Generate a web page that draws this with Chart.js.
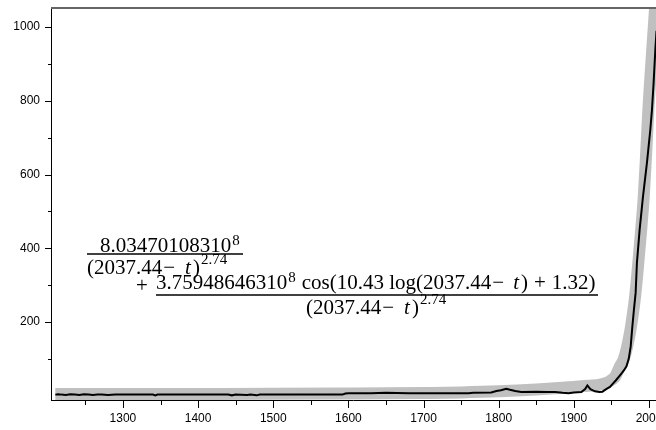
<!DOCTYPE html>
<html><head><meta charset="utf-8">
<script src="https://cdn.jsdelivr.net/npm/chart.js@4/dist/chart.umd.min.js"></script>
<style>html,body{margin:0;padding:0;background:#fff}#wrap{position:relative;width:656px;height:430px}</style>
</head><body><div id="wrap"><canvas id="c" width="656" height="430"></canvas></div>
<script>
// observed series (black)
const obsYears = [1210,1214,1218,1224,1230,1236,1242,1248,1254,1260,1266,1272,1280,1290,1300,1320,1340,1343,1346,1400,1440,1445,1450,1465,1470,1478,1482,1500,1560,1592,1596,1600,1630,1650,1680,1700,1720,1760,1766,1790,1797,1803,1810,1815,1822,1830,1850,1865,1875,1885,1893,1900,1910,1915,1918,1922,1928,1934,1938,1943,1948,1952,1956,1960,1964,1967,1970,1973,1975.6,1977.8,1980,1982.2,1983.9,1987.5,1991.9,1997.2,2001.7,2003.9,2006.1,2008.4,2010];
const obsValues = [3,4,3,2,4,3,2,4,3,2,3,3,2,3,3,3,3,1,3,3,3,1,3,2,3,1,3,3,3,3,6,7,7,8,7,7,7,7,8,9,13,15,19,16,13,10,11,10,10,8,7,9,10,18,28,18,12,10,11,18,24,33,42,52,62,70,80,100,133,187,235,279,360,450,539,631,721,775,848,938,990];
// fitted curve (grey band)
const fitYears = [1210,1300,1400,1500,1600,1650,1700,1750,1800,1850,1880,1900,1920,1935,1945,1950,1955,1961,1966,1970,1975,1978,1981,1984,1987,1990,1993,1996,1999.5,2003,2007,2012];
const fitValues = [4.6,4.7,4.9,5.2,6,6.5,7.5,9,12,17,21,24,27,30,36,43,52,78,97,125,175,215,260,320,390,460,540,650,790,900,1020,1180];
// ticks
const xMajorTicks = [1300,1400,1500,1600,1700,1800,1900,2000];
const xMinorTicks = [1250,1350,1450,1550,1650,1750,1850,1950];
const yMajorTicks = [200,400,600,800,1000];
const yMinorTicks = [100,300,500,700,900];
// formula text
const num1 = "8.03470108310", supEight = "8";
const denA = "(2037.44", minus = "\u2212", tVar = "t", close = ")", denSup = "2.74";
const num2a = "3.75948646310", num2b = "cos(10.43 log(2037.44", plus = "+", num2c = "1.32)";

const frame = {
  id: 'frame',
  afterDatasetsDraw(chart) {
    const ctx = chart.ctx, a = chart.chartArea, xs = chart.scales.x, ys = chart.scales.y;
    ctx.save();
    ctx.strokeStyle = '#000'; ctx.lineWidth = 1;
    ctx.beginPath();
    ctx.moveTo(a.left - 0.5, a.top); ctx.lineTo(a.left - 0.5, a.bottom + 1);
    ctx.moveTo(a.left - 1, a.bottom + 0.5); ctx.lineTo(a.right, a.bottom + 0.5);
    yMajorTicks.forEach(v => { const y = Math.round(ys.getPixelForValue(v)) + 0.5; ctx.moveTo(a.left - 7, y); ctx.lineTo(a.left, y); });
    yMinorTicks.forEach(v => { const y = Math.round(ys.getPixelForValue(v)) + 0.5; ctx.moveTo(a.left - 4, y); ctx.lineTo(a.left, y); });
    xMajorTicks.forEach(v => { const x = Math.round(xs.getPixelForValue(v)) + 0.5; ctx.moveTo(x, a.bottom); ctx.lineTo(x, a.bottom + 8); });
    xMinorTicks.forEach(v => { const x = Math.round(xs.getPixelForValue(v)) + 0.5; ctx.moveTo(x, a.bottom); ctx.lineTo(x, a.bottom + 5); });
    ctx.stroke();
    ctx.strokeStyle = '#666'; ctx.lineWidth = 2;
    ctx.beginPath(); ctx.moveTo(a.left - 1, a.top); ctx.lineTo(a.right, a.top); ctx.stroke();
    ctx.restore();
  }
};

function run(ctx, x, y, parts) {
  parts.forEach(p => {
    x += (p.pre || 0);
    ctx.font = (p.italic ? 'italic ' : '') + p.size + 'px "Liberation Serif"';
    ctx.fillText(p.t, x, y + (p.dy || 0));
    x += ctx.measureText(p.t).width;
  });
  return x;
}

const formula = {
  id: 'formula',
  afterDraw(chart) {
    const ctx = chart.ctx;
    ctx.save();
    ctx.fillStyle = '#000'; ctx.strokeStyle = '#000'; ctx.lineWidth = 1.3;
    ctx.textBaseline = 'alphabetic'; ctx.textAlign = 'left';
    const M = 21, S = 15;
    const denParts = [{t: denA, size: M}, {t: minus, size: M, pre: 1}, {t: tVar, size: M, italic: true, pre: 10}, {t: close, size: M, pre: 2}, {t: denSup, size: S, dy: -10, pre: 1}];
    run(ctx, 100, 252, [{t: num1, size: M}, {t: supEight, size: S, dy: -7, pre: 1}]);
    ctx.beginPath(); ctx.moveTo(87, 254); ctx.lineTo(243, 254); ctx.stroke();
    run(ctx, 87, 273.5, denParts);
    run(ctx, 136, 292, [{t: plus, size: M}]);
    run(ctx, 156, 288.5, [
      {t: num2a, size: M}, {t: supEight, size: S, dy: -7, pre: 1},
      {t: num2b, size: M, pre: 6}, {t: minus, size: M, pre: 1}, {t: tVar, size: M, italic: true, pre: 9},
      {t: close, size: M, pre: 2}, {t: plus, size: M, pre: 6}, {t: num2c, size: M, pre: 6}
    ]);
    ctx.beginPath(); ctx.moveTo(156, 295); ctx.lineTo(598, 295); ctx.stroke();
    run(ctx, 306, 313.5, denParts);
    ctx.restore();
  }
};

new Chart(document.getElementById('c'), {
  type: 'line',
  data: {
    datasets: [
      { data: obsYears.map((x, i) => ({x, y: obsValues[i]})), borderColor: '#000', borderWidth: 2, pointRadius: 0, tension: 0, clip: 0 },
      { data: fitYears.map((x, i) => ({x, y: fitValues[i]})), borderColor: '#c0c0c0', borderWidth: 12, pointRadius: 0, cubicInterpolationMode: 'monotone', borderCapStyle: 'butt', clip: 0 }
    ]
  },
  options: {
    responsive: false, animation: false, devicePixelRatio: 1,
    layout: { padding: { top: 8, left: 0, right: 0, bottom: 0 } },
    plugins: { legend: { display: false }, tooltip: { enabled: false } },
    scales: {
      x: {
        type: 'linear', min: 1205.6, max: 2009.3,
        afterBuildTicks: s => { s.ticks = xMajorTicks.map(v => ({value: v})); },
        afterFit: s => { s.height = 30; s.paddingLeft = 0; s.paddingRight = 0; },
        ticks: { callback: v => String(v), maxRotation: 0, autoSkip: false, color: '#000', padding: 4, font: { family: 'Liberation Sans', size: 12 } },
        grid: { display: false, drawTicks: true, tickLength: 7 },
        border: { display: false }
      },
      y: {
        type: 'linear', min: -11.6, max: 1052,
        afterBuildTicks: s => { s.ticks = yMajorTicks.map(v => ({value: v})); },
        afterFit: s => { s.width = 52; s.paddingTop = 0; s.paddingBottom = 0; },
        ticks: { callback: v => String(v), color: '#000', padding: 5, font: { family: 'Liberation Sans', size: 12 } },
        grid: { display: false, drawTicks: true, tickLength: 7 },
        border: { display: false }
      }
    }
  },
  plugins: [frame, formula]
});
</script></body></html>
